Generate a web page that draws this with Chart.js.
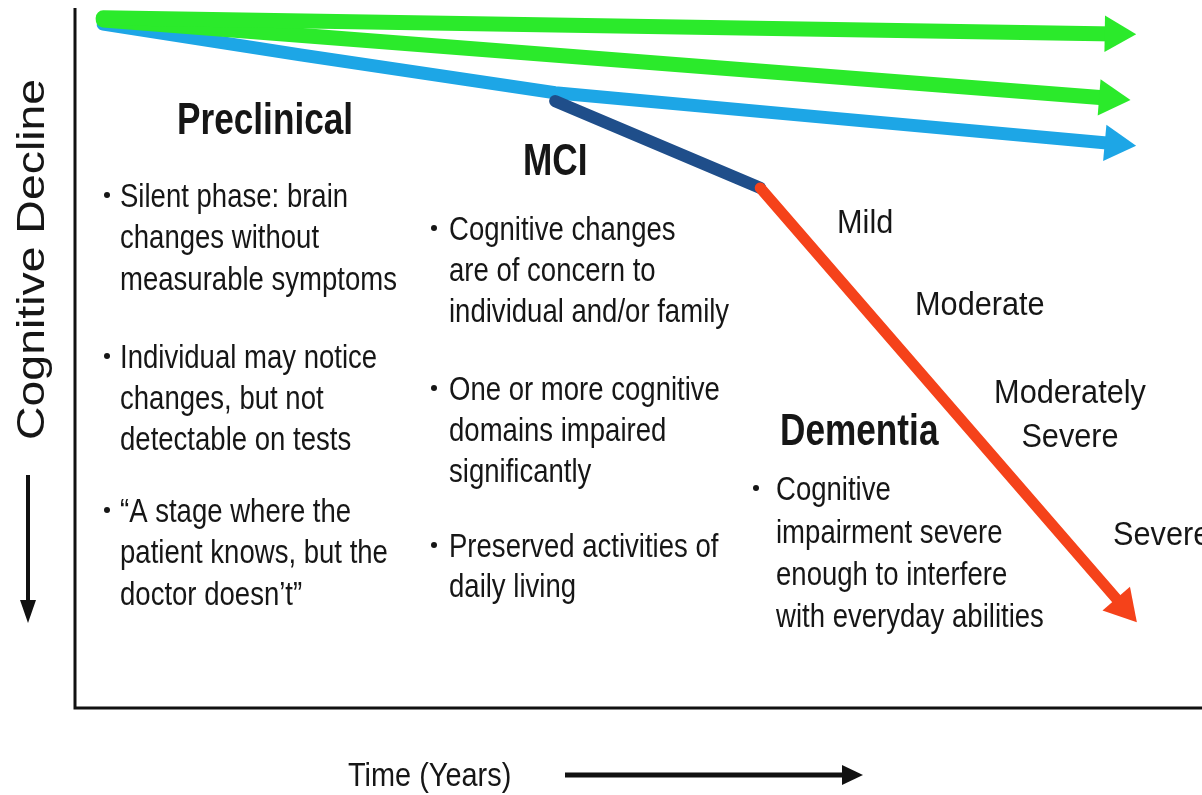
<!DOCTYPE html>
<html>
<head>
<meta charset="utf-8">
<script src="https://cdn.jsdelivr.net/npm/chart.js@4.4.0/dist/chart.umd.min.js"></script>
<style>
    html, body { margin: 0; padding: 0; background: #fff; }
    #wrap { width: 1202px; height: 795px; position: relative; }
</style>
</head>
<body>
<div id="wrap"><canvas id="grafico"></canvas></div>
<script>
// x = time (0-100), y = cognition (100 = intact)
const normalUpper = [{x: 2.5, y: 98.6}, {x: 92.3, y: 96.3}];
const normalLower = [{x: 2.5, y: 98.3}, {x: 91.8, y: 87.1}];
const preclinicalPath = [{x: 2.5, y: 97.7}, {x: 20.0, y: 93.3}, {x: 42.6, y: 87.9}, {x: 67.0, y: 84.3}, {x: 92.3, y: 80.6}];
const mciPath = [{x: 42.6, y: 86.7}, {x: 60.8, y: 74.3}];
const dementiaPath = [{x: 60.8, y: 74.3}, {x: 93.0, y: 14.5}];

const stageTitles = ['Preclinical', 'MCI', 'Dementia'];
const preclinicalNotes = [
    ['Silent phase: brain', 'changes without', 'measurable symptoms'],
    ['Individual may notice', 'changes, but not', 'detectable on tests'],
    ['\u201CA stage where the', 'patient knows, but the', 'doctor doesn\u2019t\u201D']
];
const mciNotes = [
    ['Cognitive changes', 'are of concern to', 'individual and/or family'],
    ['One or more cognitive', 'domains impaired', 'significantly'],
    ['Preserved activities of', 'daily living']
];
const dementiaNotes = [
    ['Cognitive', 'impairment severe', 'enough to interfere', 'with everyday abilities']
];
const severityLabels = ['Mild', 'Moderate', 'Moderately', 'Severe', 'Severe'];
const axisTitles = {y: 'Cognitive Decline', x: 'Time (Years)'};

const FONT = '"Liberation Sans", Arial, sans-serif';
const INK = '#161616';

document.addEventListener('DOMContentLoaded', () => {
    const ctx = document.getElementById('grafico').getContext('2d');

    const arrowLine = (data, color, width) => ({
        data: data,
        showLine: true,
        borderColor: color,
        backgroundColor: color,
        borderWidth: width,
        borderCapStyle: 'round',
        borderJoinStyle: 'round',
        tension: 0,
        clip: false,
        pointStyle: 'triangle',
        pointBorderWidth: 0,
        pointBorderColor: color,
        pointBackgroundColor: color,
        pointRadius: (c) => c.dataIndex === c.dataset.data.length - 1 ? 21 : 0,
        pointRotation: (c) => {
            const i = c.dataIndex;
            const d = c.dataset.data;
            if (i === 0) return 0;
            const sx = c.chart.scales.x, sy = c.chart.scales.y;
            const dx = sx.getPixelForValue(d[i].x) - sx.getPixelForValue(d[i - 1].x);
            const dy = sy.getPixelForValue(d[i].y) - sy.getPixelForValue(d[i - 1].y);
            return 90 + Math.atan2(dy, dx) * 180 / Math.PI;
        }
    });

    const noArrow = (data, color, width) => {
        const ds = arrowLine(data, color, width);
        ds.pointRadius = 0;
        return ds;
    };

    const text = (c, str, x, y, size, bold, sx, align) => {
        c.save();
        c.translate(x, y);
        c.scale(sx, 1);
        c.font = (bold ? 'bold ' : '') + size + 'px ' + FONT;
        c.fillStyle = INK;
        c.textAlign = align || 'left';
        c.textBaseline = 'alphabetic';
        c.fillText(str, 0, 0);
        c.restore();
    };

    const bullet = (c, x, y) => {
        c.beginPath();
        c.arc(x, y, 3, 0, Math.PI * 2);
        c.fillStyle = INK;
        c.fill();
    };

    const noteBlock = (c, blocks, bx, tx, baselines) => {
        let k = 0;
        blocks.forEach((lines) => {
            lines.forEach((line, j) => {
                const y = baselines[k++];
                if (j === 0) bullet(c, bx, y - 12);
                text(c, line, tx, y, 34, false, 0.81);
            });
        });
    };

    const annotations = {
        id: 'annotations',
        afterDraw(chart) {
            const c = chart.ctx;
            const a = chart.chartArea;

            // axes
            c.save();
            c.strokeStyle = '#111';
            c.lineWidth = 3;
            c.beginPath();
            c.moveTo(a.left, a.top);
            c.lineTo(a.left, a.bottom);
            c.lineTo(a.right, a.bottom);
            c.stroke();

            // y axis title with arrow
            c.save();
            c.translate(44, 440);
            c.rotate(-Math.PI / 2);
            c.scale(1.19, 1);
            c.font = '39px ' + FONT;
            c.fillStyle = INK;
            c.fillText(axisTitles.y, 0, 0);
            c.restore();
            c.lineWidth = 4;
            c.beginPath();
            c.moveTo(28, 475);
            c.lineTo(28, 605);
            c.stroke();
            c.fillStyle = '#111';
            c.beginPath();
            c.moveTo(20, 600);
            c.lineTo(36, 600);
            c.lineTo(28, 623);
            c.closePath();
            c.fill();

            // x axis title with arrow
            text(c, axisTitles.x, 348, 786, 34, false, 0.85);
            c.lineWidth = 5;
            c.beginPath();
            c.moveTo(565, 775);
            c.lineTo(845, 775);
            c.stroke();
            c.beginPath();
            c.moveTo(842, 765);
            c.lineTo(863, 775);
            c.lineTo(842, 785);
            c.closePath();
            c.fill();
            c.restore();

            // stage titles
            text(c, stageTitles[0], 177, 134, 44, true, 0.8);
            text(c, stageTitles[1], 523, 175, 44, true, 0.8);
            text(c, stageTitles[2], 780, 445, 44, true, 0.8);

            // notes
            noteBlock(c, preclinicalNotes, 107, 120, [207, 248, 290, 368, 409, 450, 522, 563, 605]);
            noteBlock(c, mciNotes, 434, 449, [240, 281, 322, 400, 441, 482, 557, 597]);
            noteBlock(c, dementiaNotes, 756, 776, [500, 543, 585, 627]);

            // severity along the dementia arrow
            text(c, severityLabels[0], 837, 233, 33, false, 0.93);
            text(c, severityLabels[1], 915, 315, 33, false, 0.93);
            text(c, severityLabels[2], 1070, 403, 33, false, 0.93, 'center');
            text(c, severityLabels[3], 1070, 447, 33, false, 0.93, 'center');
            text(c, severityLabels[4], 1113, 545, 33, false, 0.93);
        }
    };

    new Chart(ctx, {
        type: 'scatter',
        data: {
            datasets: [
                arrowLine(normalUpper, '#2BEA2B', 15),
                arrowLine(normalLower, '#2BEA2B', 15),
                arrowLine(dementiaPath, '#F5421A', 11),
                noArrow(mciPath, '#1F4E8A', 12),
                arrowLine(preclinicalPath, '#1DA6E6', 13)
            ]
        },
        options: {
            responsive: true,
            maintainAspectRatio: false,
            animation: false,
            events: [],
            layout: {autoPadding: false, padding: {left: 75, top: 8, right: 0, bottom: 87}},
            scales: {
                x: {type: 'linear', min: 0, max: 100, display: false},
                y: {type: 'linear', min: 0, max: 100, display: false}
            },
            plugins: {
                legend: {display: false},
                tooltip: {enabled: false}
            }
        },
        plugins: [annotations]
    });
});
</script>
</body>
</html>
